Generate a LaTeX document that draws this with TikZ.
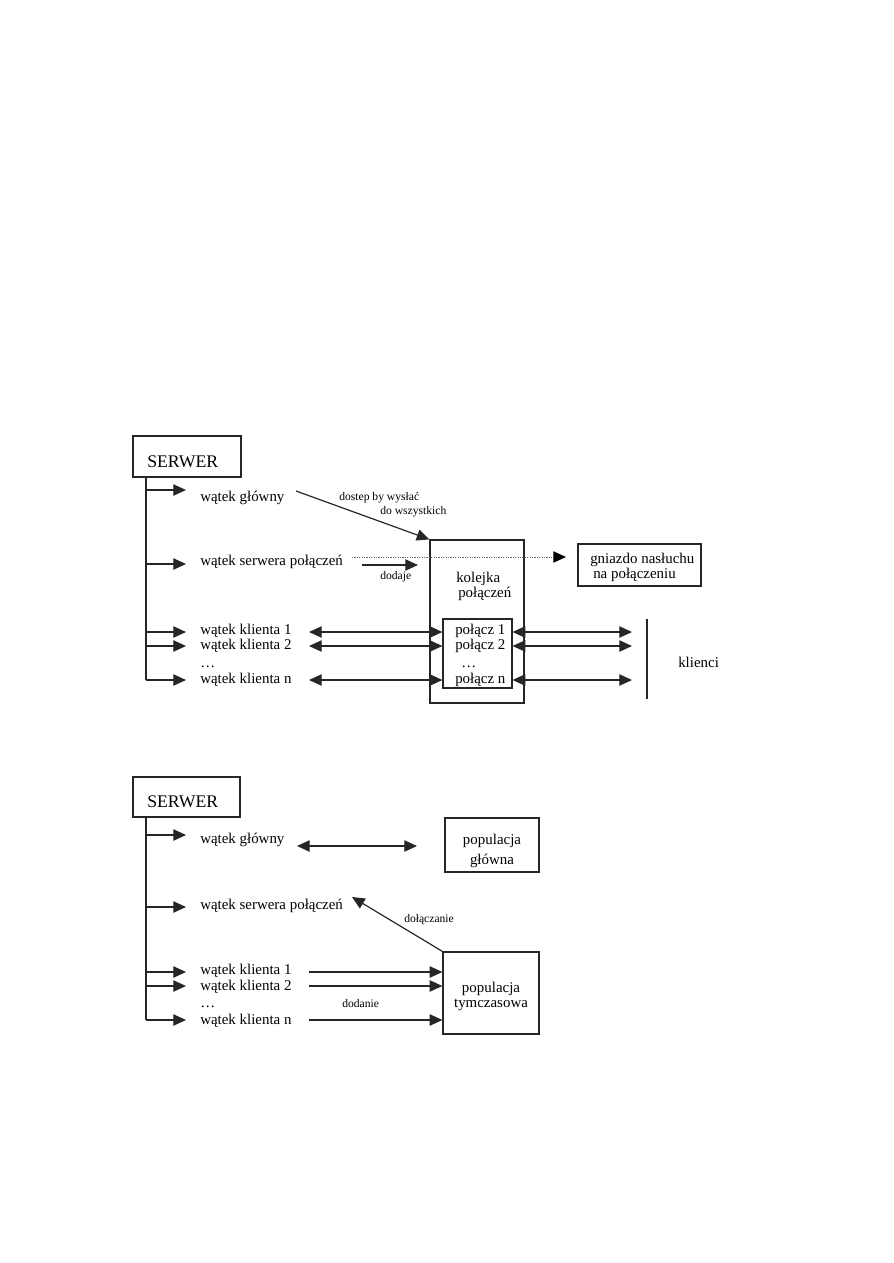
\documentclass[tikz,border=0pt]{standalone}
\usepackage{fontspec}
\setmainfont{Liberation Serif}
\usetikzlibrary{arrows.meta}
\begin{document}
\begin{tikzpicture}[x=0.75pt,y=-0.75pt,
  >={Triangle[length=9.5pt,width=8.5pt]},
  ln/.style={line width=0.9pt, draw=black!85},
  arr/.style={ln,->},
  darr/.style={ln,<->},
  dotl/.style={line width=0.7pt, draw=black!60, dash pattern=on 0.9pt off 0.9pt, -{Triangle[length=9.5pt,width=8.5pt,fill=black,color=black]}},
  bx/.style={draw=black!85, line width=0.9pt, inner sep=0pt, fill=none},
  lbl/.style={font=\fontsize{11.2}{13}\selectfont, inner sep=0pt, anchor=base west},
  clbl/.style={font=\fontsize{11.2}{13}\selectfont, inner sep=0pt, anchor=base},
  big/.style={font=\fontsize{13.3}{15}\selectfont, inner sep=0pt, anchor=base west},
  sml/.style={font=\fontsize{8.7}{10}\selectfont, inner sep=0pt, anchor=base west}]
\useasboundingbox (0,0) rectangle (893,1263);

% ================= Diagram 1 =================
\node[bx, minimum width=81pt, minimum height=30.75pt] (s1) at (187,456.5) {};
\node[big] (s1t) at (147,467) {SERWER};

\coordinate (t1top) at (146,477);
\coordinate (t1bot) at (146,680);
\draw[ln] (t1top) -- (t1bot);

\node[lbl] (g1) at (200,501) {wątek główny};
\node[lbl] (sp1) at (200,565) {wątek serwera połączeń};
\node[lbl] (k11) at (200,634) {wątek klienta 1};
\node[lbl] (k12) at (200,649) {wątek klienta 2};
\node[lbl] (kd1) at (200,667) {…};
\node[lbl] (k1n) at (200,683) {wątek klienta n};

\coordinate (b11) at (146,490);
\coordinate (b12) at (146,564);
\coordinate (b13) at (146,632);
\coordinate (b14) at (146,646);
\coordinate (b15) at (146,680);
\draw[arr] (b11) -- ++(40,0);
\draw[arr] (b12) -- ++(40,0);
\draw[arr] (b13) -- ++(40,0);
\draw[arr] (b14) -- ++(40,0);
\draw[arr] (b15) -- ++(40,0);

% kolejka
\node[bx, minimum width=70.5pt, minimum height=122.25pt] (kol) at (477,621.5) {};
\node[lbl] (kolt1) at (456,582) {kolejka};
\node[lbl] (kolt2) at (458,597) {połączeń};
\node[bx, minimum width=51.75pt, minimum height=51.75pt] (inner) at (477.5,653.5) {};
\node[lbl] (p1) at (455,634) {połącz 1};
\node[lbl] (p2) at (455,649) {połącz 2};
\node[lbl] (pd) at (461,667) {…};
\node[lbl] (pn) at (455,683) {połącz n};

% gniazdo
\node[bx, minimum width=92.25pt, minimum height=31.5pt] (gn) at (639.5,565) {};
\node[lbl] (gnt1) at (590,563) {gniazdo nasłuchu};
\node[lbl] (gnt2) at (593,578) {na połączeniu};

% labels
\node[sml] (dost1) at (339,500) {dostep by wysłać};
\node[sml] (dost2) at (380,514) {do wszystkich};
\node[sml] (dod) at (380,579) {dodaje};

% connectors
\coordinate (ga) at (296,491);
\draw[arr] (ga) -- (kol.north west);
\coordinate (ds) at (352,557);
\coordinate (de) at (566,557);
\draw[dotl] (ds) -- (de);
\coordinate (dda) at (362,565);
\coordinate (ddb) at (418,565);
\draw[arr] (dda) -- (ddb);

\coordinate (l1) at (309,632);
\coordinate (l2) at (309,646);
\coordinate (ln) at (309,680);
\draw[darr] (l1) -- (l1 -| inner.west);
\draw[darr] (l2) -- (l2 -| inner.west);
\draw[darr] (ln) -- (ln -| inner.west);

\coordinate (rr1) at (632,632);
\coordinate (rr2) at (632,646);
\coordinate (rrn) at (632,680);
\draw[darr] (rr1 -| inner.east) -- (rr1);
\draw[darr] (rr2 -| inner.east) -- (rr2);
\draw[darr] (rrn -| inner.east) -- (rrn);

% klienci
\coordinate (kla) at (647,619);
\coordinate (klb) at (647,699);
\draw[ln] (kla) -- (klb);
\node[lbl] (kl) at (678,667) {klienci};

% ================= Diagram 2 =================
\node[bx, minimum width=80.25pt, minimum height=30pt] (s2) at (186.5,797) {};
\node[big] (s2t) at (147,807) {SERWER};

\coordinate (t2top) at (146,817);
\coordinate (t2bot) at (146,1020);
\draw[ln] (t2top) -- (t2bot);

\node[lbl] (g2) at (200,843) {wątek główny};
\node[lbl] (sp2) at (200,909) {wątek serwera połączeń};
\node[lbl] (k21) at (200,974) {wątek klienta 1};
\node[lbl] (k22) at (200,990) {wątek klienta 2};
\node[lbl] (kd2) at (200,1007) {…};
\node[lbl] (k2n) at (200,1024) {wątek klienta n};

\coordinate (b21) at (146,835);
\coordinate (b22) at (146,907);
\coordinate (b23) at (146,972);
\coordinate (b24) at (146,986);
\coordinate (b25) at (146,1020);
\draw[arr] (b21) -- ++(40,0);
\draw[arr] (b22) -- ++(40,0);
\draw[arr] (b23) -- ++(40,0);
\draw[arr] (b24) -- ++(40,0);
\draw[arr] (b25) -- ++(40,0);

\node[bx, minimum width=70.5pt, minimum height=40.5pt] (pg) at (492,845) {};
\node[clbl] (pgt1) at (492,844) {populacja};
\node[clbl] (pgt2) at (492,864) {główna};

\node[bx, minimum width=72pt, minimum height=61.5pt] (pt) at (491,993) {};
\node[clbl] (ptt1) at (491,992) {populacja};
\node[clbl] (ptt2) at (491,1007) {tymczasowa};

\coordinate (ga2) at (297,846);
\draw[darr] (ga2) -- (417,846);

\coordinate (dtip) at (352,897);
\draw[arr] (pt.north west) -- (dtip);
\node[sml] (dol) at (404,922) {dołączanie};

\coordinate (m1) at (309,972);
\coordinate (m2) at (309,986);
\coordinate (mn) at (309,1020);
\draw[arr] (m1) -- (m1 -| pt.west);
\draw[arr] (m2) -- (m2 -| pt.west);
\draw[arr] (mn) -- (mn -| pt.west);
\node[sml] (dodn) at (342,1007) {dodanie};
\end{tikzpicture}
\end{document}
